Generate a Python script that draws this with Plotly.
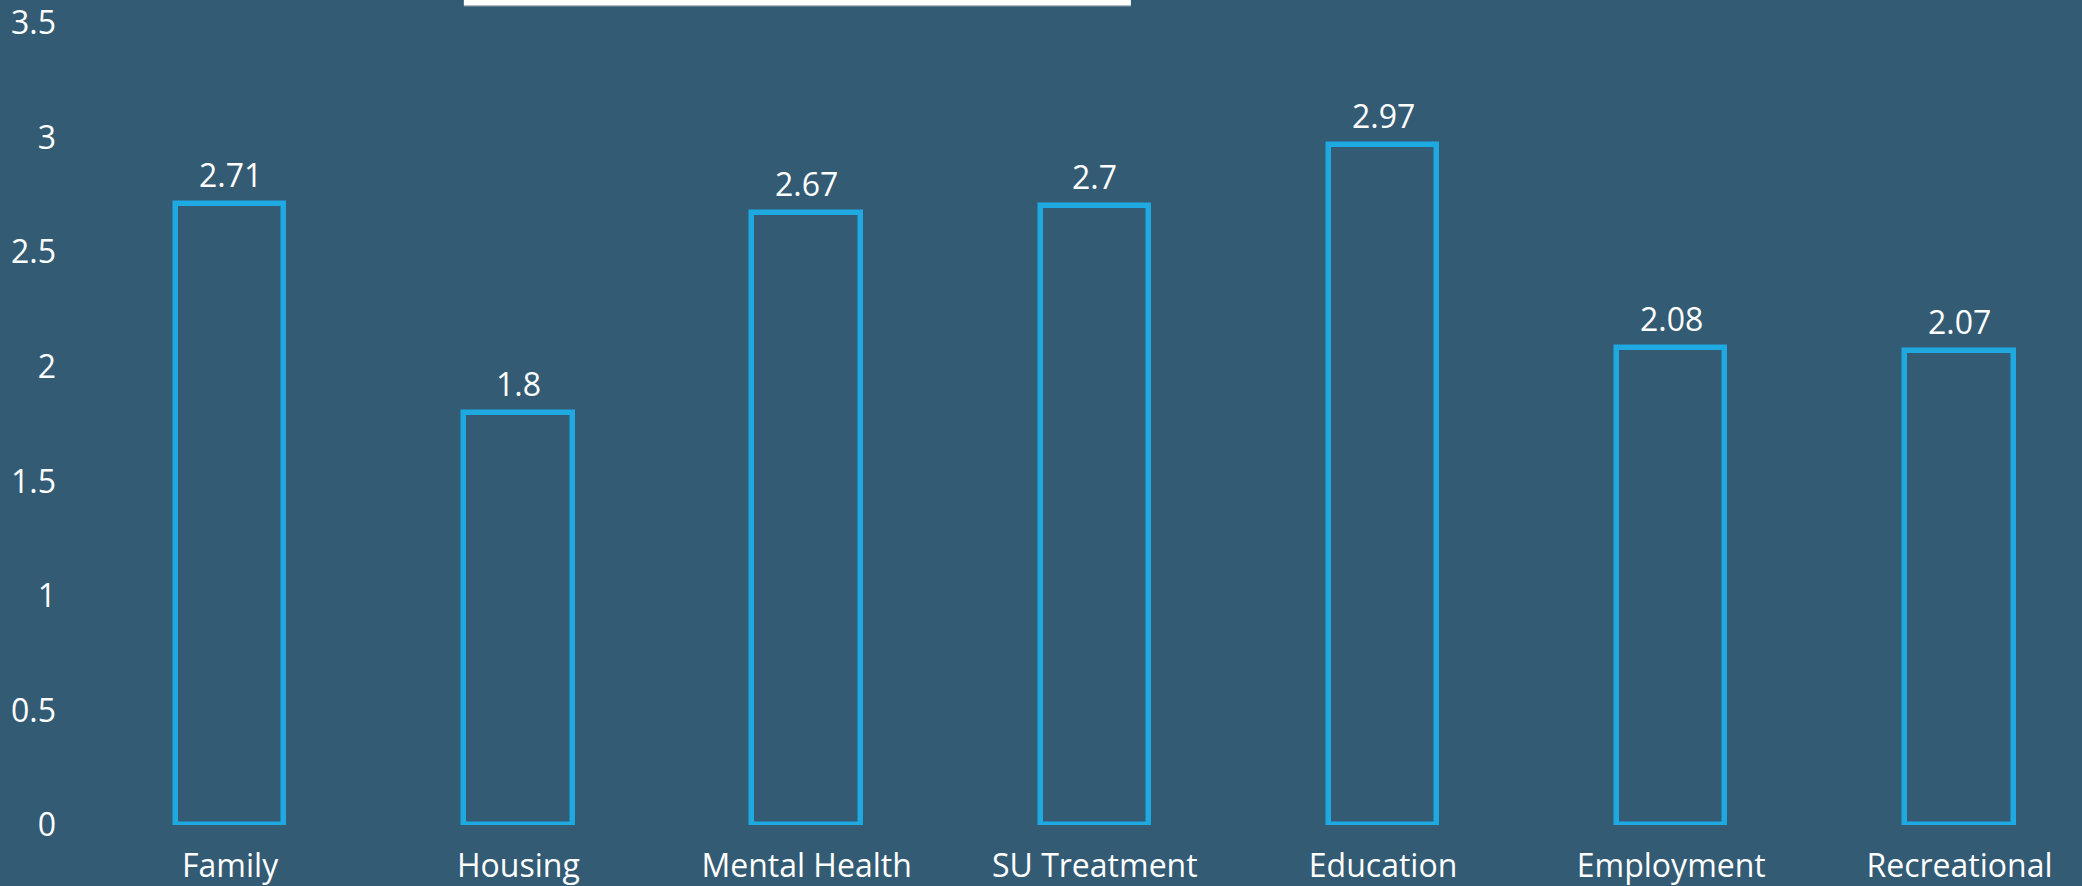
import plotly.graph_objects as go

# Mean scores per service domain
categories = ["Family", "Housing", "Mental Health", "SU Treatment",
              "Education", "Employment", "Recreational"]
scores = [2.71, 1.8, 2.67, 2.7, 2.97, 2.08, 2.07]
score_labels = ["2.71", "1.8", "2.67", "2.7", "2.97", "2.08", "2.07"]
y_ticks = [0, 0.5, 1, 1.5, 2, 2.5, 3, 3.5]
y_tick_labels = ["0", "0.5", "1", "1.5", "2", "2.5", "3", "3.5"]

BG = "#335B74"
ACCENT = "#1EAAE1"
FONT = "Open Sans"

fig = go.Figure()
fig.add_trace(go.Bar(
    x=categories,
    y=scores,
    width=0.376,
    marker=dict(color=BG, line=dict(color=ACCENT, width=5.5)),
    hoverinfo="skip",
))

# value labels above each bar
for cat, val, lab in zip(categories, scores, score_labels):
    fig.add_annotation(
        x=cat, y=val, text=lab, showarrow=False,
        yanchor="bottom", yshift=6,
        font=dict(family=FONT, size=32, color="white"),
    )

# white header strip at the top edge
fig.add_shape(type="rect", xref="paper", yref="paper",
              x0=0.1893, x1=0.5235, y0=1.0205, y1=1.0217,
              line=dict(width=0), fillcolor="#8c9aa3", layer="above")
fig.add_shape(type="rect", xref="paper", yref="paper",
              x0=0.1893, x1=0.5235, y0=1.0217, y1=1.04,
              line=dict(width=0), fillcolor="white", layer="above")

fig.update_layout(
    width=2082, height=886,
    paper_bgcolor=BG, plot_bgcolor=BG,
    margin=dict(l=86, r=0, t=21, b=60),
    showlegend=False,
    bargap=0,
    font=dict(family=FONT, size=32, color="white"),
    xaxis=dict(
        range=[-0.5, 6.425], showgrid=False, zeroline=False, showline=False,
        ticks="", ticklabelstandoff=19, ticklabeloverflow="allow",
        tickfont=dict(family=FONT, size=32, color="white"),
        fixedrange=True,
    ),
    yaxis=dict(
        range=[0, 3.5005], tickvals=y_ticks, ticktext=y_tick_labels,
        showgrid=False, zeroline=False, showline=False, ticks="",
        ticklabelstandoff=29, ticklabeloverflow="allow",
        tickfont=dict(family=FONT, size=32, color="white"),
        fixedrange=True,
    ),
)

fig.write_html("out.html", config={"displayModeBar": False})
